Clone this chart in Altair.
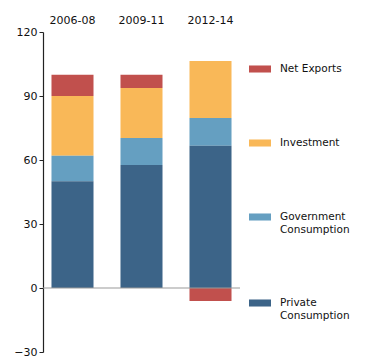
import altair as alt
import pandas as pd

periods = ["2006-08", "2009-11", "2012-14"]
series = ["Net Exports", "Investment", "Government Consumption", "Private Consumption"]
colors = ["#C1504D", "#F9B858", "#659FC1", "#3C6488"]
stack_order = [4, 3, 2, 1]

private = [50.0, 57.7, 66.7]
government = [12.0, 12.6, 13.0]
investment = [28.0, 23.4, 26.7]
net_exports = [10.0, 6.3, -6.1]

values = {
    "Net Exports": net_exports,
    "Investment": investment,
    "Government Consumption": government,
    "Private Consumption": private,
}

rows = []
for s, o in zip(series, stack_order):
    for p, v in zip(periods, values[s]):
        rows.append({"period": p, "component": s, "value": v, "ord": o})
df = pd.DataFrame(rows)

FONT = "DejaVu Sans"

bars = alt.Chart(df).mark_bar().encode(
    x=alt.X("period:N", sort=periods,
            scale=alt.Scale(paddingInner=0.391, paddingOuter=0.123),
            axis=alt.Axis(orient="top", title=None, ticks=False, tickSize=0, domain=False,
                          labelAngle=0, labelFont=FONT, labelFontSize=11,
                          labelColor="#111111", labelPadding=7)),
    y=alt.Y("value:Q", stack="zero",
            scale=alt.Scale(domain=[-30, 120], nice=False, zero=False),
            axis=alt.Axis(title=None, values=[-30, 0, 30, 60, 90, 120], grid=False,
                          domainColor="#222222", domainWidth=1.2, tickColor="#222222",
                          tickSize=4, labelFont=FONT, labelFontSize=11,
                          labelColor="#111111", labelPadding=2)),
    color=alt.Color("component:N",
                    scale=alt.Scale(domain=series, range=colors),
                    legend=alt.Legend(title=None, orient="none", legendX=206, legendY=26,
                                      symbolType="M-1,-0.32H1V0.32H-1Z", symbolSize=484,
                                      symbolStrokeWidth=0, symbolOpacity=1,
                                      labelFont=FONT, labelFontSize=10.5, labelColor="#111111",
                                      labelOffset=9, rowPadding=57, labelLimit=200,
                                      labelExpr="indexof(datum.label, ' Consumption') > 0 ? [replace(datum.label, ' Consumption', ''), 'Consumption'] : datum.label")),
    order=alt.Order("ord:Q", sort="ascending"),
)

zero = alt.Chart(pd.DataFrame({"y": [0]})).mark_rule(color="#999999", strokeWidth=1.2).encode(
    y="y:Q"
)

chart = alt.layer(bars, zero).properties(
    width=197, height=320,
    autosize=alt.AutoSizeParams(type="none"),
    padding={"left": 35, "top": 24, "right": 112, "bottom": 7},
).configure_view(stroke=None)

chart.save("out.html", embed_options={"renderer": "svg", "actions": False})
